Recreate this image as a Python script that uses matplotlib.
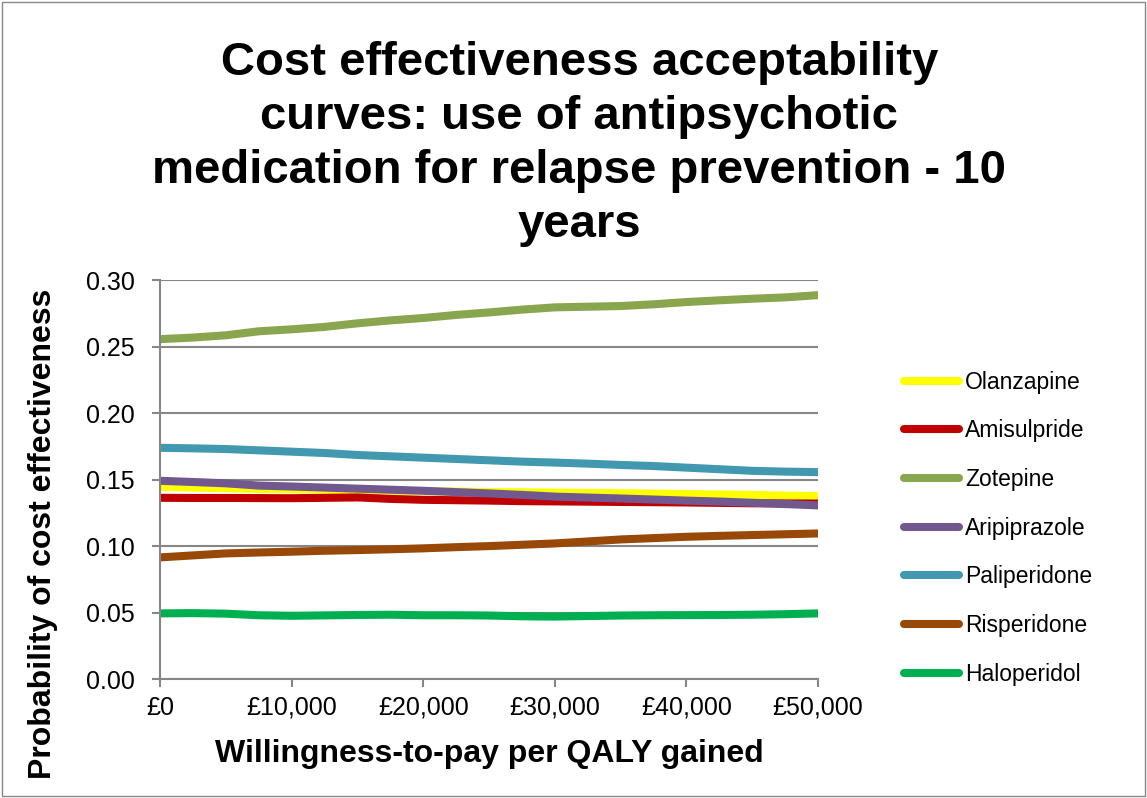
import matplotlib.pyplot as plt
import numpy as np

plt.rcParams['font.family'] = ['Liberation Sans', 'DejaVu Sans']

# willingness-to-pay thresholds (GBP per QALY)
wtp = np.arange(0, 50001, 2500)

olanzapine = [0.1446, 0.1440, 0.1435, 0.1430, 0.1427, 0.1424, 0.1420, 0.1416, 0.1413, 0.1410,
              0.1407, 0.1405, 0.1402, 0.1400, 0.1398, 0.1395, 0.1392, 0.1388, 0.1385, 0.1380, 0.1376]
amisulpride = [0.1363, 0.1362, 0.1362, 0.1361, 0.1360, 0.1363, 0.1366, 0.1355, 0.1348, 0.1345,
               0.1342, 0.1338, 0.1336, 0.1334, 0.1332, 0.1330, 0.1328, 0.1325, 0.1322, 0.1321, 0.1320]
zotepine = [0.2556, 0.2568, 0.2585, 0.2615, 0.2630, 0.2648, 0.2675, 0.2697, 0.2715, 0.2738,
            0.2757, 0.2778, 0.2795, 0.2800, 0.2805, 0.2818, 0.2835, 0.2848, 0.2860, 0.2870, 0.2887]
aripiprazole = [0.1491, 0.1482, 0.1472, 0.1455, 0.1448, 0.1440, 0.1432, 0.1424, 0.1416, 0.1406,
                0.1396, 0.1385, 0.1372, 0.1365, 0.1358, 0.1350, 0.1342, 0.1335, 0.1326, 0.1316, 0.1306]
paliperidone = [0.1739, 0.1735, 0.1730, 0.1720, 0.1710, 0.1700, 0.1685, 0.1675, 0.1665, 0.1655,
                0.1645, 0.1635, 0.1628, 0.1620, 0.1610, 0.1602, 0.1590, 0.1578, 0.1566, 0.1560, 0.1556]
risperidone = [0.0915, 0.0930, 0.0945, 0.0952, 0.0958, 0.0965, 0.0970, 0.0976, 0.0983, 0.0992,
               0.1000, 0.1010, 0.1020, 0.1035, 0.1050, 0.1060, 0.1070, 0.1077, 0.1083, 0.1089, 0.1095]
haloperidol = [0.0494, 0.0496, 0.0492, 0.0480, 0.0476, 0.0479, 0.0482, 0.0484, 0.0480, 0.0480,
               0.0478, 0.0472, 0.0470, 0.0474, 0.0478, 0.0480, 0.0481, 0.0482, 0.0484, 0.0488, 0.0494]

names = ['Olanzapine', 'Amisulpride', 'Zotepine', 'Aripiprazole', 'Paliperidone', 'Risperidone', 'Haloperidol']
series = [olanzapine, amisulpride, zotepine, aripiprazole, paliperidone, risperidone, haloperidol]
colors = ['#FFFF00', '#C00000', '#89A54E', '#71588F', '#4198AF', '#984807', '#00B050']

xticks = [0, 10000, 20000, 30000, 40000, 50000]
xticklabels = ['£0', '£10,000', '£20,000', '£30,000', '£40,000', '£50,000']
yticks = [0.00, 0.05, 0.10, 0.15, 0.20, 0.25, 0.30]

fig = plt.figure(figsize=(11.47, 7.98), dpi=100)
fig.patches.append(plt.Rectangle((0.002, 0.002), 0.996, 0.996, transform=fig.transFigure,
                                 fill=False, edgecolor='#888888', linewidth=1))
ax = fig.add_axes([0.1395, 0.149, 0.5737, 0.5])

for name, vals, col in zip(names, series, colors):
    ax.plot(wtp, vals, color=col, linewidth=5.8, solid_capstyle='round', label=name)

ax.set_xlim(0, 50000)
ax.set_ylim(0, 0.30)
ax.set_xticks(xticks)
ax.set_xticklabels(xticklabels)
ax.set_yticks(yticks)
ax.set_yticklabels(['%.2f' % v for v in yticks])
ax.yaxis.grid(True, color='#868686', linewidth=1.5)
ax.set_axisbelow(True)
for side in ['top', 'right']:
    ax.spines[side].set_visible(False)
for side in ['left', 'bottom']:
    ax.spines[side].set_color('#868686')
    ax.spines[side].set_linewidth(1.5)
ax.tick_params(axis='both', colors='#868686', width=1.5, length=6, labelsize=18, labelcolor='black')
ax.tick_params(axis='x', pad=6)
ax.tick_params(axis='y', pad=12)

ax.set_xlabel('Willingness-to-pay per QALY gained', fontsize=23, fontweight='bold', labelpad=14)
ax.set_ylabel('Probability of cost effectiveness', fontsize=23, fontweight='bold')
ax.yaxis.set_label_coords(-0.155, 0.363)

fig.suptitle('Cost effectiveness acceptability\ncurves: use of antipsychotic\nmedication for relapse prevention - 10\nyears',
             x=0.505, y=0.948, fontsize=34, fontweight='bold', linespacing=1.29)

ax.legend(loc='center left', bbox_to_anchor=(1.1, 0.378), frameon=False, fontsize=16.5,
          handlelength=2.4, handletextpad=0.25, labelspacing=1.12)

plt.savefig('out.png', dpi=100)
